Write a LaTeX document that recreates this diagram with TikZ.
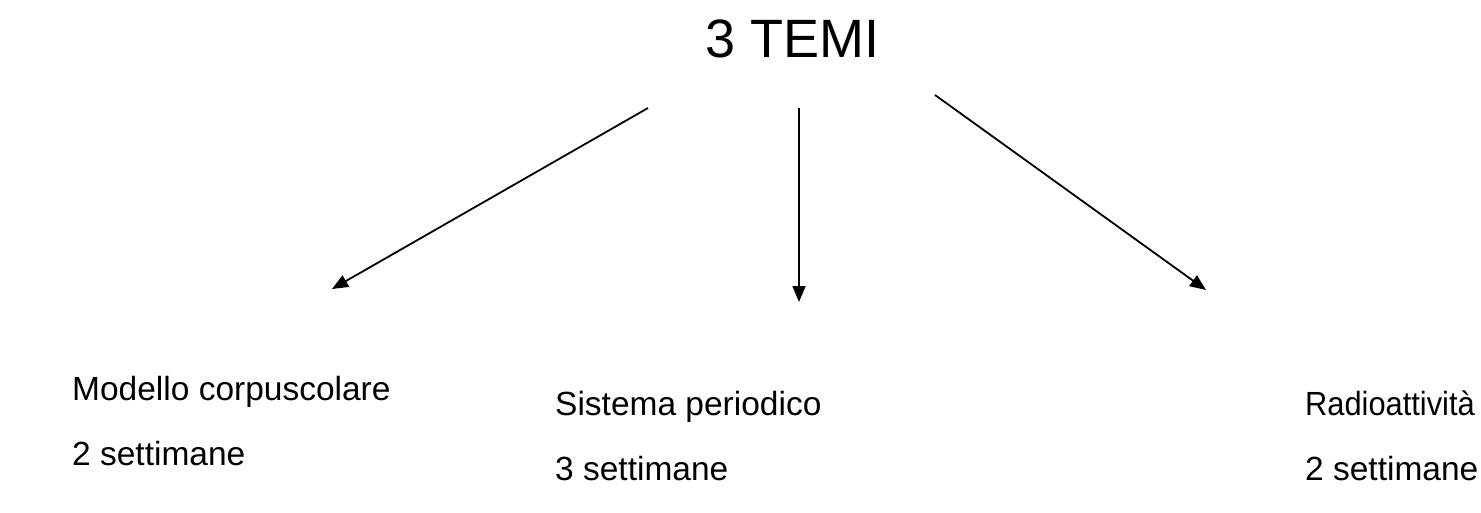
\documentclass[tikz,border=0pt]{standalone}
\usepackage{fontspec}
\setmainfont{Liberation Sans}
\usetikzlibrary{arrows.meta}
\tikzset{
  lbl/.style={anchor=base west, inner sep=0pt, font=\fontsize{33.5}{40}\selectfont},
  ttl/.style={anchor=base, inner sep=0pt, font=\fontsize{54}{60}\selectfont},
  arr/.style={line width=1.8pt, -{Triangle[length=16pt,width=13pt]}}
}
\begin{document}
\begin{tikzpicture}[x=1pt,y=-1pt]
\useasboundingbox (0,0) rectangle (1481,512);
\node[ttl] (title) at (793,57) {3 TEMI};
\node[lbl] (m1) at (72,400) {Modello corpuscolare};
\node[lbl] (m2) at (72,465) {2 settimane};
\node[lbl] (s1) at (555,415) {Sistema periodico};
\node[lbl] (s2) at (555,480) {3 settimane};
\node[lbl] (r1) at (1305,415) {\scalebox{0.92}[1]{Radioattività}};
\node[lbl] (r2) at (1305,480) {2 settimane};
\coordinate (a1s) at (648,108);
\coordinate (a1e) at (332,289);
\coordinate (a2s) at (799,108);
\coordinate (a2e) at (799,302);
\coordinate (a3s) at (935,95);
\coordinate (a3e) at (1206,290);
\draw[arr] (a1s) -- (a1e);
\draw[arr] (a2s) -- (a2e);
\draw[arr] (a3s) -- (a3e);
\end{tikzpicture}
\end{document}
